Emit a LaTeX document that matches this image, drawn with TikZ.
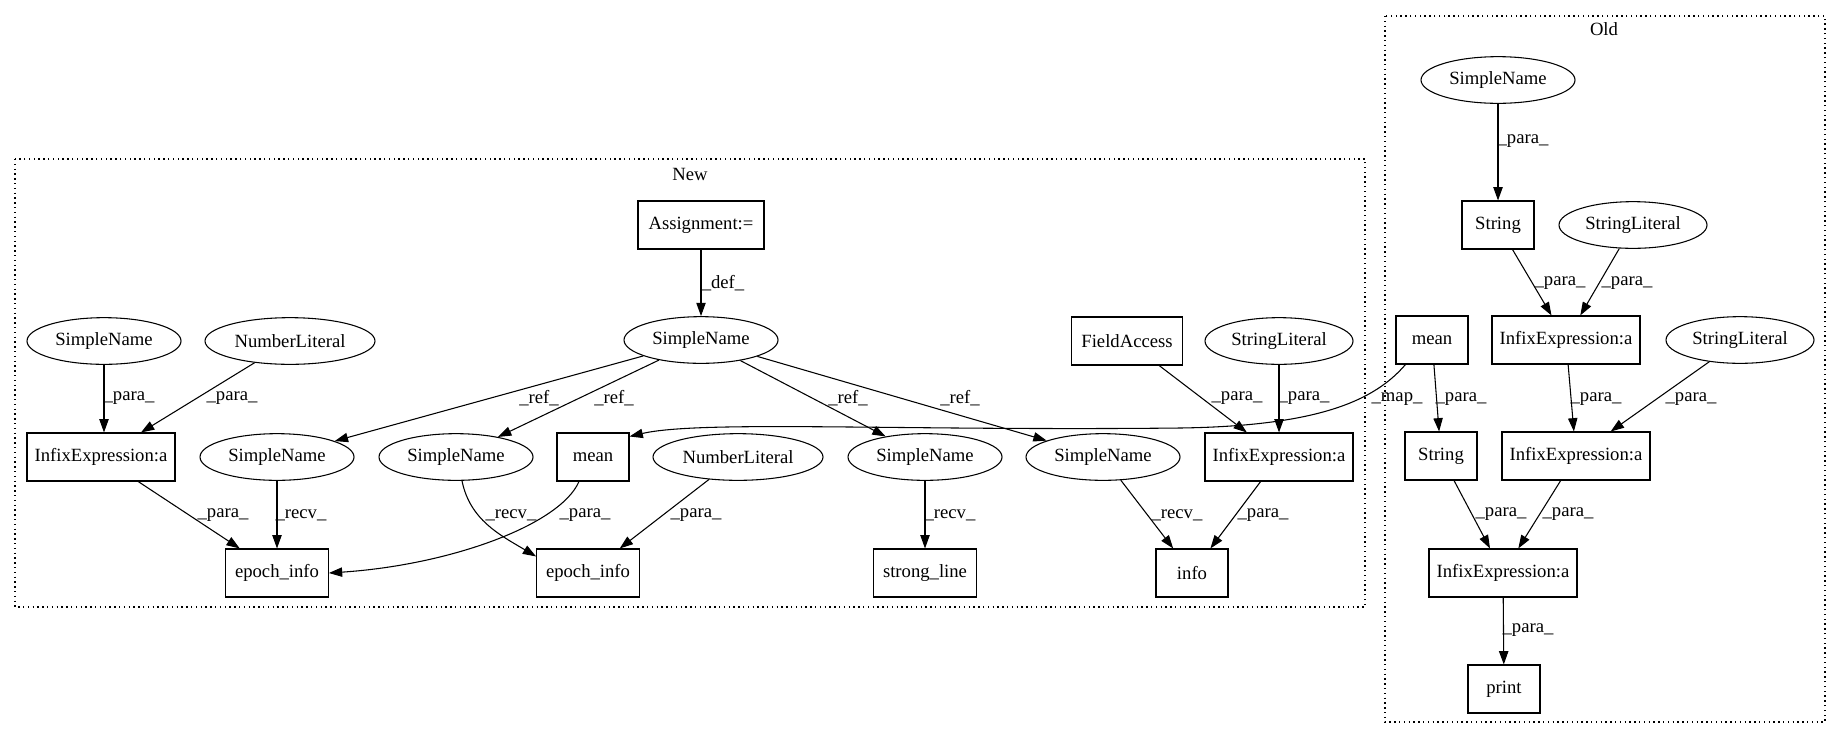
\documentclass[tikz,border=0pt]{standalone}
\usepackage{fontspec}
\setmainfont{Liberation Serif}
\usetikzlibrary{arrows.meta,calc,shapes.geometric}
\begin{document}
\begin{tikzpicture}[x=0.75pt,y=-0.75pt,
  every node/.style={font=\fontsize{14}{16}\selectfont},
  box/.style={draw, line width=0.8pt, rectangle, inner sep=0pt, minimum height=36pt},
  oval/.style={draw, line width=0.8pt, ellipse, inner sep=0pt, minimum height=35pt},
  conn/.style={draw, line width=0.8pt, -{Triangle[length=10pt,width=7pt]}},
  lbl/.style={inner sep=0pt},
  cluster/.style={draw, line width=0.8pt, dash pattern=on 1pt off 2.6pt},
]
\useasboundingbox (0,0) rectangle (1841,740);
% clusters
\draw[cluster] (15,159) rectangle (1365,607);
\draw[cluster] (1385,16) rectangle (1825,722);
\node[lbl] (newlbl) at (690,174) {New};
\node[lbl] (oldlbl) at (1604,29) {Old};

% New nodes
\node[box, minimum width=94.5pt] (assign) at (701,225) {Assignment:=};
\node[oval, minimum width=115.5pt] (snTop) at (701,340) {SimpleName};
\node[oval, minimum width=115.5pt] (snL) at (104,341) {SimpleName};
\node[oval, minimum width=127.5pt] (numL) at (290,341) {NumberLiteral};
\node[box, minimum width=83pt] (field) at (1127,341) {FieldAccess};
\node[oval, minimum width=111pt] (strN) at (1279,341) {StringLiteral};
\node[box, minimum width=111pt] (infixL) at (101,457) {InfixExpression:a};
\node[oval, minimum width=115.5pt] (sna) at (277,457) {SimpleName};
\node[oval, minimum width=115.5pt] (snb) at (456,457) {SimpleName};
\node[box, minimum width=54pt] (meanN) at (593,457) {mean};
\node[oval, minimum width=127.5pt] (numb) at (738,457) {NumberLiteral};
\node[oval, minimum width=115.5pt] (snc) at (925,457) {SimpleName};
\node[oval, minimum width=115.5pt] (snd) at (1103,457) {SimpleName};
\node[box, minimum width=111pt] (infixR) at (1279,457) {InfixExpression:a};
\node[box, minimum width=77pt] (epochA) at (277,573) {epoch\_info};
\node[box, minimum width=77pt] (epochB) at (588,573) {epoch\_info};
\node[box, minimum width=77pt] (strong) at (925,573) {strong\_line};
\node[box, minimum width=54pt] (info) at (1192,573) {info};

% Old nodes
\node[oval, minimum width=115.5pt] (snO) at (1498,80) {SimpleName};
\node[box, minimum width=54pt] (strU) at (1498,225) {String};
\node[oval, minimum width=111pt] (slU) at (1633,225) {StringLiteral};
\node[box, minimum width=54pt] (meanO) at (1432,340) {mean};
\node[box, minimum width=111pt] (infU) at (1566,340) {InfixExpression:a};
\node[oval, minimum width=111pt] (slR) at (1740,340) {StringLiteral};
\node[box, minimum width=54pt] (strL) at (1441,456) {String};
\node[box, minimum width=111pt] (infM) at (1576,456) {InfixExpression:a};
\node[box, minimum width=111pt] (infLo) at (1503,573) {InfixExpression:a};
\node[box, minimum width=54pt] (print) at (1504,689) {print};

% New edges
\draw[conn] (assign) -- (snTop);
\draw[conn] (snTop) -- (sna);
\draw[conn] (snTop) -- (snb);
\draw[conn] (snTop) -- (snc);
\draw[conn] (snTop) -- (snd);
\draw[conn] (snL) -- (snL |- infixL.north);
\draw[conn] (numL) -- (infixL);
\draw[conn] (infixL) -- (epochA);
\draw[conn] (sna) -- (epochA);
\draw[conn] ($(meanN.south)+(-14,0)$) .. controls (560,525) and (450,565) .. (epochA.east);
\draw[conn] ($(snb.south)+(6,0)$) .. controls (470,520) and (500,535) .. ($(epochB.north west)+(0,8)$);
\draw[conn] (numb) -- (epochB);
\draw[conn] (snc) -- (strong);
\draw[conn] (snd) -- (info);
\draw[conn] (infixR) -- (info);
\draw[conn] (field) -- (infixR);
\draw[conn] (strN) -- (infixR);
\draw[conn] ($(meanO.south west)+(10,0)$) .. controls (1375,400) and (1320,426) .. (1180,428)
  .. controls (900,431) and (700,420) .. ($(meanN.north east)+(0,4)$);

% Old edges
\draw[conn] (snO) -- (strU);
\draw[conn] (strU) -- (infU);
\draw[conn] (slU) -- (infU);
\draw[conn] (meanO) -- (strL);
\draw[conn] (infU) -- (infM);
\draw[conn] (slR) -- (infM);
\draw[conn] (strL) -- (infLo);
\draw[conn] (infM) -- (infLo);
\draw[conn] (infLo) -- (print);

% labels New
\node[lbl] (l1) at (723,283) {\_def\_};
\node[lbl] (l2) at (539,398) {\_ref\_};
\node[lbl] (l3) at (614,398) {\_ref\_};
\node[lbl] (l4) at (848,398) {\_ref\_};
\node[lbl] (l5) at (960,398) {\_ref\_};
\node[lbl] (l6) at (129,398) {\_para\_};
\node[lbl] (l7) at (232,398) {\_para\_};
\node[lbl] (l8) at (1237,398) {\_para\_};
\node[lbl] (l9) at (1304,398) {\_para\_};
\node[lbl] (l10) at (223,515) {\_para\_};
\node[lbl] (l11) at (301,515) {\_recv\_};
\node[lbl] (l12) at (585,515) {\_para\_};
\node[lbl] (l13) at (511,515) {\_recv\_};
\node[lbl] (l14) at (696,515) {\_para\_};
\node[lbl] (l15) at (950,515) {\_recv\_};
\node[lbl] (l16) at (1177,515) {\_recv\_};
\node[lbl] (l17) at (1263,515) {\_para\_};
\node[lbl] (l18) at (1397,399) {\_map\_};
% labels Old
\node[lbl] (o1) at (1523,141) {\_para\_};
\node[lbl] (o2) at (1560,283) {\_para\_};
\node[lbl] (o3) at (1627,283) {\_para\_};
\node[lbl] (o4) at (1461,399) {\_para\_};
\node[lbl] (o5) at (1596,399) {\_para\_};
\node[lbl] (o6) at (1691,399) {\_para\_};
\node[lbl] (o7) at (1501,514) {\_para\_};
\node[lbl] (o8) at (1568,514) {\_para\_};
\node[lbl] (o9) at (1528,630) {\_para\_};
\end{tikzpicture}
\end{document}
